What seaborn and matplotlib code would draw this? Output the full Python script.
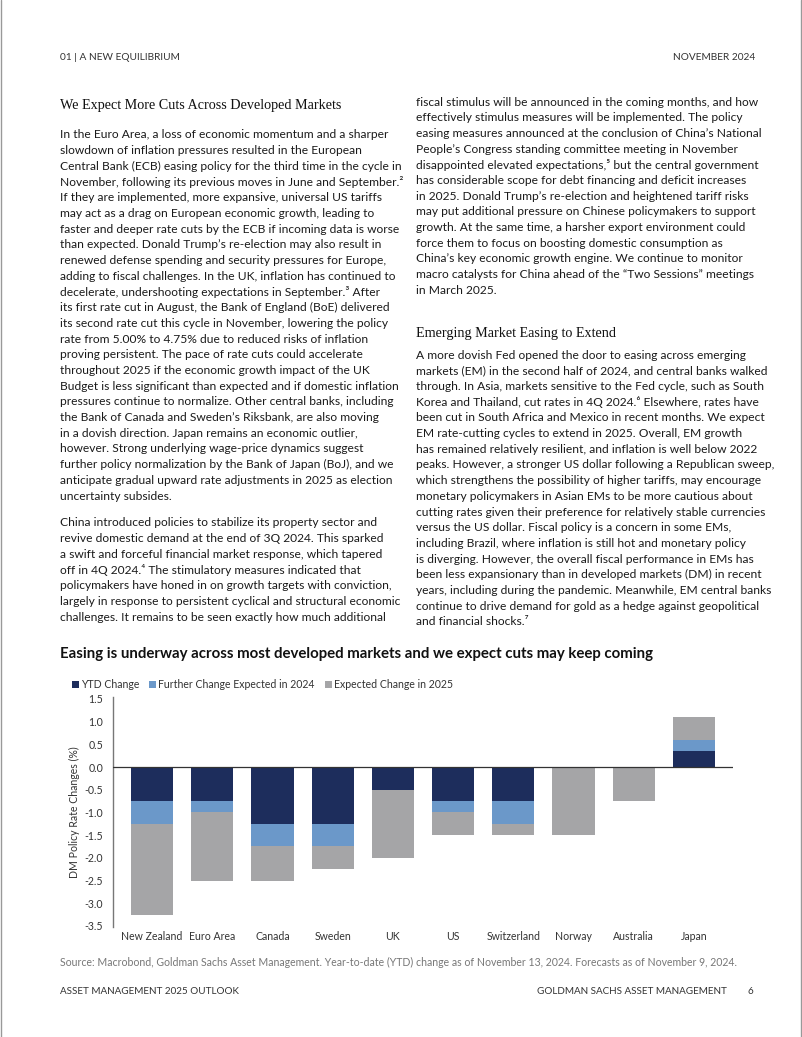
import numpy as np
import seaborn as sns
import matplotlib.pyplot as plt
from matplotlib.lines import Line2D

# chart data (policy rate changes, %)
countries = ["New Zealand", "Euro Area", "Canada", "Sweden", "UK", "US",
             "Switzerland", "Norway", "Australia", "Japan"]
ytd_change = [-0.75, -0.75, -1.25, -1.25, -0.50, -0.75, -0.75, 0.00, 0.00, 0.35]
further_2024 = [-0.50, -0.25, -0.50, -0.50, 0.00, -0.25, -0.50, 0.00, 0.00, 0.25]
expected_2025 = [-2.00, -1.50, -0.75, -0.50, -1.50, -0.50, -0.25, -1.50, -0.75, 0.50]
series_names = ["YTD Change", "Further Change Expected in 2024", "Expected Change in 2025"]
y_ticks = [1.5, 1.0, 0.5, 0.0, -0.5, -1.0, -1.5, -2.0, -2.5, -3.0, -3.5]

# page text
left_par1 = [
    "In the Euro Area, a loss of economic momentum and a sharper",
    "slowdown of inflation pressures resulted in the European",
    "Central Bank (ECB) easing policy for the third time in the cycle in",
    "November, following its previous moves in June and September.²",
    "If they are implemented, more expansive, universal US tariffs",
    "may act as a drag on European economic growth, leading to",
    "faster and deeper rate cuts by the ECB if incoming data is worse",
    "than expected. Donald Trump’s re-election may also result in",
    "renewed defense spending and security pressures for Europe,",
    "adding to fiscal challenges. In the UK, inflation has continued to",
    "decelerate, undershooting expectations in September.³ After",
    "its first rate cut in August, the Bank of England (BoE) delivered",
    "its second rate cut this cycle in November, lowering the policy",
    "rate from 5.00% to 4.75% due to reduced risks of inflation",
    "proving persistent. The pace of rate cuts could accelerate",
    "throughout 2025 if the economic growth impact of the UK",
    "Budget is less significant than expected and if domestic inflation",
    "pressures continue to normalize. Other central banks, including",
    "the Bank of Canada and Sweden’s Riksbank, are also moving",
    "in a dovish direction. Japan remains an economic outlier,",
    "however. Strong underlying wage-price dynamics suggest",
    "further policy normalization by the Bank of Japan (BoJ), and we",
    "anticipate gradual upward rate adjustments in 2025 as election",
    "uncertainty subsides.",
]
left_par2 = [
    "China introduced policies to stabilize its property sector and",
    "revive domestic demand at the end of 3Q 2024. This sparked",
    "a swift and forceful financial market response, which tapered",
    "off in 4Q 2024.⁴ The stimulatory measures indicated that",
    "policymakers have honed in on growth targets with conviction,",
    "largely in response to persistent cyclical and structural economic",
    "challenges. It remains to be seen exactly how much additional",
]
right_par1 = [
    "fiscal stimulus will be announced in the coming months, and how",
    "effectively stimulus measures will be implemented. The policy",
    "easing measures announced at the conclusion of China’s National",
    "People’s Congress standing committee meeting in November",
    "disappointed elevated expectations,⁵ but the central government",
    "has considerable scope for debt financing and deficit increases",
    "in 2025. Donald Trump’s re-election and heightened tariff risks",
    "may put additional pressure on Chinese policymakers to support",
    "growth. At the same time, a harsher export environment could",
    "force them to focus on boosting domestic consumption as",
    "China’s key economic growth engine. We continue to monitor",
    "macro catalysts for China ahead of the “Two Sessions” meetings",
    "in March 2025.",
]
right_par2 = [
    "A more dovish Fed opened the door to easing across emerging",
    "markets (EM) in the second half of 2024, and central banks walked",
    "through. In Asia, markets sensitive to the Fed cycle, such as South",
    "Korea and Thailand, cut rates in 4Q 2024.⁶ Elsewhere, rates have",
    "been cut in South Africa and Mexico in recent months. We expect",
    "EM rate-cutting cycles to extend in 2025. Overall, EM growth",
    "has remained relatively resilient, and inflation is well below 2022",
    "peaks. However, a stronger US dollar following a Republican sweep,",
    "which strengthens the possibility of higher tariffs, may encourage",
    "monetary policymakers in Asian EMs to be more cautious about",
    "cutting rates given their preference for relatively stable currencies",
    "versus the US dollar. Fiscal policy is a concern in some EMs,",
    "including Brazil, where inflation is still hot and monetary policy",
    "is diverging. However, the overall fiscal performance in EMs has",
    "been less expansionary than in developed markets (DM) in recent",
    "years, including during the pandemic. Meanwhile, EM central banks",
    "continue to drive demand for gold as a hedge against geopolitical",
    "and financial shocks.⁷",
]

sns.set_theme(style="white")
plt.rcParams["font.family"] = ["Lato", "DejaVu Sans"]

W, H = 802, 1037
fig = plt.figure(figsize=(W / 100, H / 100), dpi=100)

def put(x, y, s, **kw):
    kw.setdefault("va", "center")
    return fig.text(x / W, 1 - y / H, s, **kw)

body_kw = dict(fontsize=8.65, color="#1a1a1a")
head_kw = dict(fontsize=10.2, color="#111111", family=["Liberation Serif", "DejaVu Serif"])
step = 15.7

# running header / footer
put(60, 58, "01 | A NEW EQUILIBRIUM", fontsize=7.3, color="#333333")
put(755, 58, "NOVEMBER 2024", fontsize=7.3, color="#333333", ha="right")
put(60, 992, "ASSET MANAGEMENT 2025 OUTLOOK", fontsize=7.1, color="#333333")
put(727, 992, "GOLDMAN SACHS ASSET MANAGEMENT", fontsize=7.1, color="#333333", ha="right")
put(753, 992, "6", fontsize=7.1, color="#333333", ha="right")

# body columns
put(60, 106, "We Expect More Cuts Across Developed Markets", **head_kw)
for i, line in enumerate(left_par1):
    put(60, 135 + i * step, line, **body_kw)
for i, line in enumerate(left_par2):
    put(60, 523 + i * step, line, **body_kw)
for i, line in enumerate(right_par1):
    put(416, 102 + i * step, line, **body_kw)
put(416, 333, "Emerging Market Easing to Extend", **head_kw)
for i, line in enumerate(right_par2):
    put(416, 355 + i * step, line, **body_kw)

# chart
put(60, 654, "Easing is underway across most developed markets and we expect cuts may keep coming",
    fontsize=10.8, fontweight="bold", color="#111111")

ylim = (-3.53, 1.55)
zero_px, unit_px = 767, 45.4
ax_top = zero_px - ylim[1] * unit_px
ax_bot = zero_px - ylim[0] * unit_px
ax = fig.add_axes([113 / W, 1 - ax_bot / H, (733 - 113) / W, (ax_bot - ax_top) / H])

colors = ["#1d2d5c", "#6b98c9", "#a5a5a7"]
bottom = np.zeros(len(countries))
for vals, col, name in zip([ytd_change, further_2024, expected_2025], colors, series_names):
    sns.barplot(x=countries, y=vals, bottom=bottom, color=col, width=0.7,
                saturation=1, errorbar=None, linewidth=0, ax=ax, label=name)
    bottom = bottom + np.array(vals)

ax.axhline(0, color="#333333", lw=0.9, zorder=5)
ax.set_xlim(-0.65, 9.65)
ax.set_ylim(*ylim)
ax.set_yticks(y_ticks)
ax.set_yticklabels([f"{t:.1f}" for t in y_ticks])
ax.tick_params(axis="both", length=0, labelsize=7.6, colors="#333333", pad=7)
ax.tick_params(axis="x", pad=3)
ax.set_xlabel("")
ax.set_ylabel("DM Policy Rate Changes (%)", fontsize=7.6, color="#333333", labelpad=3)
for side in ["top", "right", "bottom"]:
    ax.spines[side].set_visible(False)
ax.spines["left"].set_color("#777777")
ax.spines["left"].set_linewidth(1.0)

handles = [ax.containers[i] for i in range(3)]
ax.legend(handles, series_names, ncol=3, loc="center left",
          bbox_to_anchor=(72 / W, 1 - 685 / H), bbox_transform=fig.transFigure,
          frameon=False, fontsize=7.6, handlelength=0.65, handleheight=0.65,
          handletextpad=0.2, columnspacing=0.95, borderpad=0, borderaxespad=0,
          labelcolor="#333333")

put(60, 962, "Source: Macrobond, Goldman Sachs Asset Management. Year-to-date (YTD) change as of November 13, 2024. Forecasts as of November 9, 2024.",
    fontsize=7.58, color="#777777")

# page edges
fig.add_artist(Line2D([0.5 / W, 0.5 / W], [0, 1], color="#999999", lw=1))
fig.add_artist(Line2D([1 - 1.5 / W, 1 - 1.5 / W], [0, 1], color="#999999", lw=1))

fig.savefig("out.png", dpi=100)
